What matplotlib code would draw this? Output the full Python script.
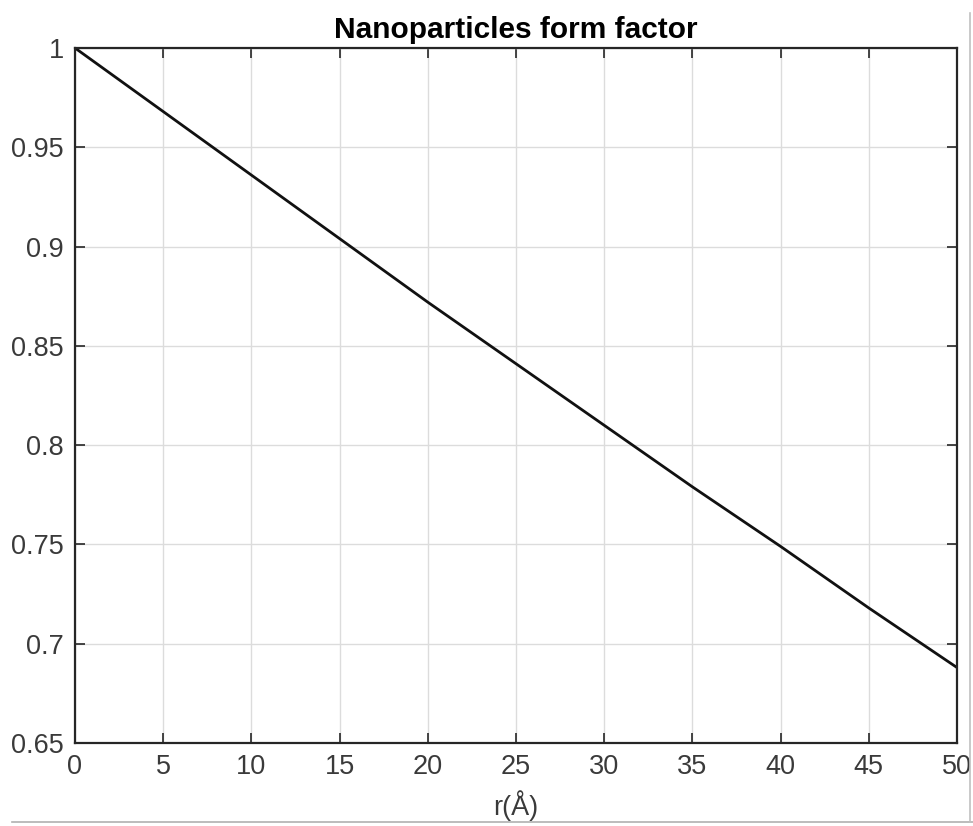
import matplotlib
matplotlib.use("Agg")
import matplotlib.pyplot as plt
from matplotlib.lines import Line2D

plt.rcParams['font.family'] = ['Liberation Sans', 'DejaVu Sans']

r_values = [0, 5, 10, 15, 20, 25, 30, 35, 40, 45, 50]
form_factor = [1.0, 0.968, 0.936, 0.904, 0.872, 0.841, 0.810, 0.779, 0.749, 0.718, 0.688]
x_ticks = [0, 5, 10, 15, 20, 25, 30, 35, 40, 45, 50]
y_ticks = [0.65, 0.7, 0.75, 0.8, 0.85, 0.9, 0.95, 1.0]
y_tick_labels = ['0.65', '0.7', '0.75', '0.8', '0.85', '0.9', '0.95', '1']

W, H = 973, 826
fig = plt.figure(figsize=(W / 100, H / 100), dpi=100)
fig.patch.set_facecolor('white')
ax = fig.add_axes([75 / W, (H - 743) / H, (957 - 75) / W, (743 - 48) / H])

ax.plot(r_values, form_factor, color='#111111', lw=2.0)
ax.set_xlim(0, 50)
ax.set_ylim(0.65, 1.0)
ax.set_xticks(x_ticks)
ax.set_yticks(y_ticks)
ax.set_yticklabels(y_tick_labels)
ax.grid(True, color='#dcdcdc', lw=1.0)
ax.set_axisbelow(True)
for s in ax.spines.values():
    s.set_color('#262626')
    s.set_linewidth(1.6)
ax.tick_params(direction='in', length=7, width=1.2, colors='#262626',
               labelcolor='#3a3a3a', labelsize=19.5, top=True, right=True, pad=8)
ax.set_title('Nanoparticles form factor', fontsize=21.5, fontweight='bold', pad=7)
ax.set_xlabel('r(Å)', fontsize=19.5, color='#3a3a3a', labelpad=7)

# screenshot border lines
fig.add_artist(Line2D([12 / W, 1], [1 - 822 / H, 1 - 822 / H], transform=fig.transFigure,
                      color='#b0b0b0', lw=1.2, zorder=11))
fig.add_artist(Line2D([970 / W, 970 / W], [1 - 13 / H, 1 - 822 / H], transform=fig.transFigure,
                      color='#c0c0c0', lw=1.2, zorder=11))

fig.savefig('out.png', dpi=100)
